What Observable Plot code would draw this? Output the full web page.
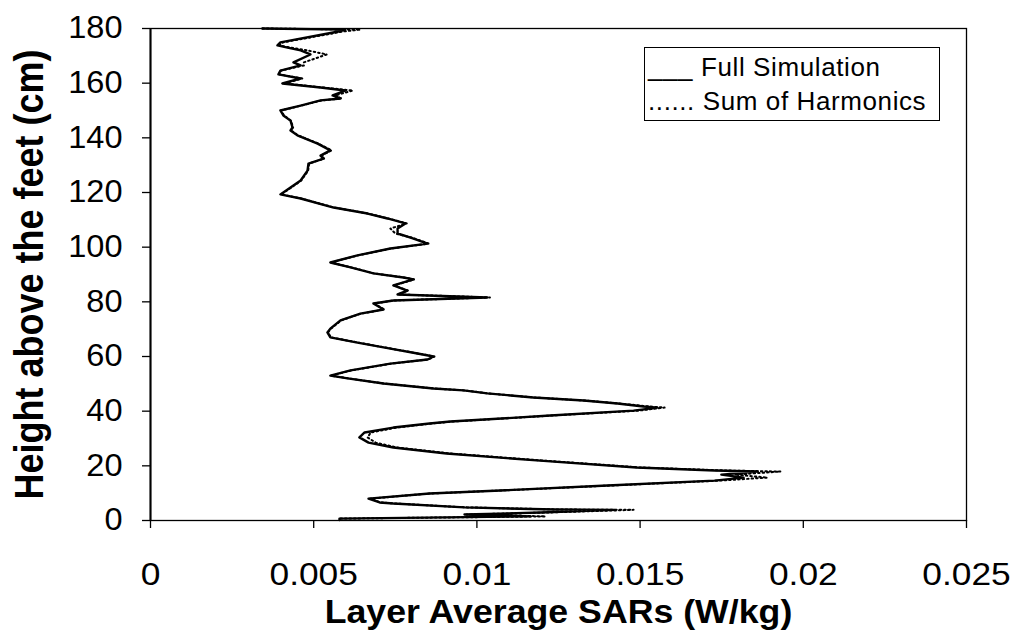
<!DOCTYPE html>
<html>
<head>
<meta charset="utf-8">
<script src="https://cdn.jsdelivr.net/npm/d3@7"></script>
<script src="https://cdn.jsdelivr.net/npm/@observablehq/plot@0.6"></script>
<style>
  body { margin: 0; background: #fff; }
  #wrap { position: relative; width: 1013px; height: 631px; }
  #legend {
    position: absolute; left: 644px; top: 47px; width: 296px; height: 74px;
    border: 1.5px solid #000; box-sizing: border-box; background: #fff;
    font-family: "Liberation Sans", Arial, sans-serif; font-size: 26px;
    line-height: 34px; padding: 2px 0 0 3px; letter-spacing: 0.6px; white-space: nowrap;
  }
</style>
</head>
<body>
<div id="wrap"></div>
<script>
// ---- data ----
const heightCm = [
  180.0, 179.6, 178.9, 174.9, 173.8, 173.0, 172.0, 170.5, 167.6, 166.5,
  164.6, 163.2, 161.7, 159.9, 158.4, 157.3, 155.5, 154.4, 153.7, 151.8,
  150.0, 148.2, 146.3, 143.8, 142.7, 140.9, 137.9, 135.4, 133.5, 132.4,
  130.6, 128.0, 124.4, 121.8, 119.3, 117.8, 114.5, 112.3, 110.5, 108.7,
  106.8, 105.0, 103.5, 101.3, 99.5, 97.0, 94.4, 92.6, 90.4, 88.9,
  88.2, 86.0, 84.1, 82.7, 81.6, 80.5, 79.4, 77.2, 75.7, 73.2,
  70.2, 68.8, 67.0, 65.1, 62.9, 61.1, 60.0, 58.9, 57.4, 54.9,
  53.0, 52.0, 50.1, 48.3, 47.6, 46.5, 45.0, 43.9, 42.8, 41.7,
  41.3, 40.2, 38.4, 36.2, 35.5, 34.0, 32.2, 30.4, 28.5, 26.7,
  24.5, 22.0, 19.4, 18.3, 17.9, 16.8, 15.7, 14.6, 12.8, 11.0,
  9.9, 8.0, 6.6, 6.2, 4.8, 4.0, 3.9, 2.9, 2.2, 1.5,
  0.7, 0.2
];
const sarFull = [
  0.00343, 0.00597, 0.00576, 0.00398, 0.00389, 0.00420, 0.00460, 0.00490, 0.00438, 0.00460,
  0.00398, 0.00392, 0.00460, 0.00404, 0.00521, 0.00597, 0.00558, 0.00582, 0.00521, 0.00460,
  0.00398, 0.00407, 0.00429, 0.00435, 0.00429, 0.00450, 0.00512, 0.00551, 0.00521, 0.00530,
  0.00484, 0.00481, 0.00460, 0.00429, 0.00398, 0.00460, 0.00561, 0.00665, 0.00726, 0.00781,
  0.00757, 0.00757, 0.00797, 0.00849, 0.00735, 0.00634, 0.00551, 0.00613, 0.00683, 0.00775,
  0.00806, 0.00744, 0.00787, 0.00757, 0.01032, 0.00744, 0.00683, 0.00714, 0.00643, 0.00582,
  0.00551, 0.00542, 0.00551, 0.00634, 0.00735, 0.00818, 0.00867, 0.00849, 0.00735, 0.00613,
  0.00551, 0.00604, 0.00714, 0.00867, 0.00959, 0.01032, 0.01173, 0.01327, 0.01431, 0.01510,
  0.01553, 0.01480, 0.01225, 0.00919, 0.00855, 0.00744, 0.00656, 0.00640, 0.00668, 0.00744,
  0.00907, 0.01183, 0.01489, 0.01728, 0.01860, 0.01749, 0.01817, 0.01728, 0.01400, 0.01072,
  0.00855, 0.00668, 0.00702, 0.00744, 0.00962, 0.01238, 0.01422, 0.01195, 0.00962, 0.01164,
  0.00579, 0.00579
];
const sarHarmonics = [
  0.00343, 0.00643, 0.00590, 0.00405, 0.00395, 0.00430, 0.00480, 0.00540, 0.00470, 0.00470,
  0.00400, 0.00395, 0.00465, 0.00410, 0.00530, 0.00620, 0.00565, 0.00585, 0.00525, 0.00462,
  0.00400, 0.00409, 0.00430, 0.00437, 0.00431, 0.00452, 0.00514, 0.00555, 0.00523, 0.00532,
  0.00486, 0.00483, 0.00462, 0.00431, 0.00400, 0.00462, 0.00563, 0.00667, 0.00728, 0.00785,
  0.00735, 0.00750, 0.00800, 0.00852, 0.00737, 0.00636, 0.00553, 0.00615, 0.00685, 0.00777,
  0.00808, 0.00746, 0.00789, 0.00759, 0.01040, 0.00746, 0.00685, 0.00716, 0.00645, 0.00584,
  0.00553, 0.00544, 0.00553, 0.00636, 0.00737, 0.00820, 0.00870, 0.00851, 0.00737, 0.00615,
  0.00553, 0.00606, 0.00716, 0.00869, 0.00961, 0.01035, 0.01176, 0.01330, 0.01436, 0.01530,
  0.01575, 0.01495, 0.01230, 0.00925, 0.00862, 0.00755, 0.00675, 0.00665, 0.00690, 0.00755,
  0.00920, 0.01195, 0.01500, 0.01760, 0.01930, 0.01790, 0.01890, 0.01745, 0.01410, 0.01078,
  0.00860, 0.00672, 0.00706, 0.00750, 0.00970, 0.01260, 0.01480, 0.01210, 0.00968, 0.01210,
  0.00582, 0.00582
];
const xTicks = [0, 0.005, 0.01, 0.015, 0.02, 0.025];
const xTickLabels = ["0", "0.005", "0.01", "0.015", "0.02", "0.025"];
const yTicks = [0, 20, 40, 60, 80, 100, 120, 140, 160, 180];
const xTitle = "Layer Average SARs (W/kg)";
const yTitle = "Height above the feet (cm)";
const seriesNames = ["Full Simulation", "Sum of Harmonics"];

// ---- build rows ----
const fullRows = heightCm.map((h, i) => ({h, v: sarFull[i]}));
const harmRows = heightCm.map((h, i) => ({h, v: sarHarmonics[i]}));

const font = '"Liberation Sans", Arial, Helvetica, sans-serif';

const chart = Plot.plot({
  width: 1013,
  height: 631,
  marginLeft: 150,
  marginRight: 47,
  marginTop: 28,
  marginBottom: 111,
  style: {fontFamily: font, background: "#fff", color: "#000", overflow: "visible"},
  x: {domain: [0, 0.025]},
  y: {domain: [0, 180]},
  marks: [
    Plot.frame({stroke: "#000", strokeWidth: 1.3}),
    Plot.axisX({ticks: xTicks, tickFormat: (d, i) => xTickLabels[i], tickSize: 8, tickPadding: 34,
      fontSize: 31, label: null, stroke: "#000", strokeWidth: 1.3}),
    Plot.axisY({ticks: yTicks, tickSize: 8, tickPadding: 20, fontSize: 31, label: null,
      stroke: "#000", strokeWidth: 1.3}),
    Plot.ruleX([0], {stroke: "#000", strokeWidth: 2}),
    Plot.line(harmRows, {x: "v", y: "h", stroke: "#000", strokeWidth: 2, strokeDasharray: "1.5,3", curve: "linear"}),
    Plot.line(fullRows, {x: "v", y: "h", stroke: "#000", strokeWidth: 2.4, curve: "linear"}),
    Plot.text([xTitle], {text: d => d, frameAnchor: "bottom", dy: 92, lineAnchor: "middle", textAnchor: "middle",
      fontSize: 34, fontWeight: "bold", fill: "#000"}),
    Plot.text([yTitle], {text: d => d, frameAnchor: "left", dx: -121, rotate: -90, lineAnchor: "middle",
      textAnchor: "middle", fontSize: 36, fontWeight: "bold", fill: "#000"})
  ]
});

const wrap = document.getElementById("wrap");
wrap.appendChild(chart);

// legend (overlaid inside the plot area)
const legend = document.createElement("div");
legend.id = "legend";
legend.innerHTML = `<div>___ ${seriesNames[0]}</div><div>...... ${seriesNames[1]}</div>`;
wrap.appendChild(legend);

// horizontal stretch of texts to match the reference's wide glyphs
function stretchText(t, f) {
  const L = t.getComputedTextLength();
  t.setAttribute("textLength", (L * f).toFixed(1));
  t.setAttribute("lengthAdjust", "spacingAndGlyphs");
}
chart.querySelectorAll('[aria-label="x-axis tick label"] text').forEach(t => stretchText(t, 1.14));
chart.querySelectorAll('[aria-label="y-axis tick label"] text').forEach(t => stretchText(t, 1.05));
chart.querySelectorAll("text").forEach(t => {
  if (t.textContent === xTitle) stretchText(t, 1.05);
  if (t.textContent === yTitle) {
    const tr = t.getAttribute("transform") || "";
    t.setAttribute("transform", tr + " scale(1,1.15)");
  }
});
</script>
</body>
</html>
